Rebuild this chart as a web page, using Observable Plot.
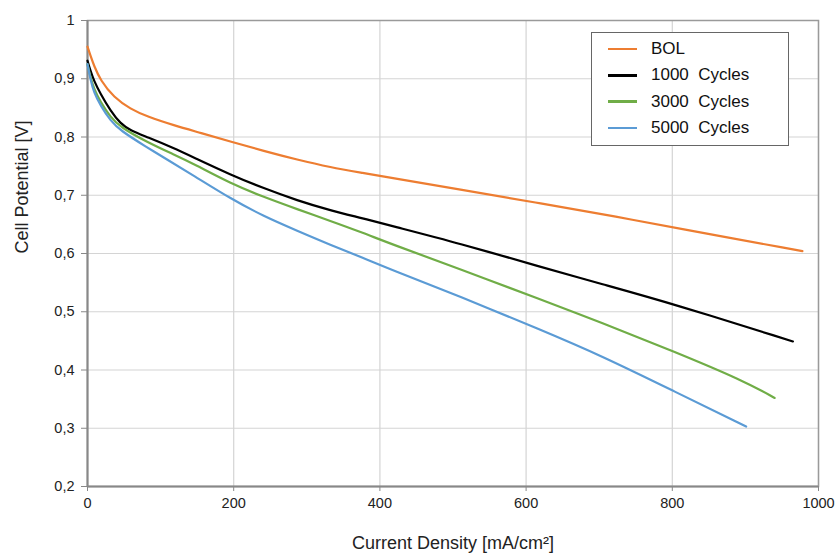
<!DOCTYPE html>
<html>
<head>
<meta charset="utf-8">
<script src="https://cdn.jsdelivr.net/npm/d3@7"></script>
<script src="https://cdn.jsdelivr.net/npm/@observablehq/plot@0.6"></script>
<style>
  html, body { margin: 0; padding: 0; background: #fff; }
  #wrap { position: relative; width: 837px; height: 559px; font-family: "Liberation Sans", Arial, sans-serif; }
  #legend { position: absolute; left: 591px; top: 32px; width: 196px; height: 112px; border: 1.5px solid #666; background: #fff; box-sizing: content-box; }
  .row { position: absolute; left: 0; height: 24px; display: flex; align-items: center; font-size: 17px; color: #111; white-space: pre; }
  .sw { display: inline-block; width: 29px; height: 2.5px; margin-left: 16px; margin-right: 14px; }
</style>
</head>
<body>
<div id="wrap"><div id="legend"></div></div>
<script>
const seriesNames = ["BOL", "1000  Cycles", "3000  Cycles", "5000  Cycles"];
const seriesColors = ["#ED7D31", "#000000", "#70AD47", "#5B9BD5"];

const bolX = [0, 4, 8.7, 17.8, 36, 58.8, 81.7, 118, 155, 196, 241, 287, 332, 378, 414, 510, 620, 729, 800, 978];
const bolY = [0.955, 0.940, 0.923, 0.897, 0.868, 0.848, 0.835, 0.820, 0.807, 0.792, 0.776, 0.761, 0.748, 0.738, 0.730, 0.710, 0.686, 0.662, 0.645, 0.604];

const c1000X = [0, 4, 8.7, 17.8, 31.5, 45, 58.8, 81.7, 118, 145, 196, 241, 287, 332, 378, 414, 510, 620, 702, 800, 965];
const c1000Y = [0.931, 0.914, 0.897, 0.874, 0.845, 0.823, 0.811, 0.800, 0.781, 0.765, 0.735, 0.712, 0.691, 0.674, 0.660, 0.648, 0.617, 0.577, 0.548, 0.514, 0.449];

const c3000X = [0, 4, 8.7, 17.8, 31.5, 45, 81.7, 118, 145, 196, 241, 287, 332, 378, 414, 510, 620, 702, 800, 897, 940];
const c3000Y = [0.925, 0.903, 0.883, 0.860, 0.834, 0.817, 0.791, 0.770, 0.754, 0.720, 0.697, 0.676, 0.656, 0.635, 0.617, 0.573, 0.521, 0.482, 0.433, 0.382, 0.352];

const c5000X = [0, 4, 8.7, 17.8, 31.5, 45, 81.7, 104, 145, 196, 241, 287, 332, 378, 414, 510, 620, 702, 800, 901];
const c5000Y = [0.925, 0.899, 0.877, 0.854, 0.828, 0.811, 0.782, 0.765, 0.734, 0.694, 0.664, 0.639, 0.615, 0.592, 0.573, 0.526, 0.469, 0.425, 0.365, 0.303];

const xTicks = [0, 200, 400, 600, 800, 1000];
const yTicks = [0.2, 0.3, 0.4, 0.5, 0.6, 0.7, 0.8, 0.9, 1];

const xsList = [bolX, c1000X, c3000X, c5000X];
const ysList = [bolY, c1000Y, c3000Y, c5000Y];
const data = [];
xsList.forEach((xs, i) => xs.forEach((x, j) => data.push({series: seriesNames[i], x, y: ysList[i][j]})));

const fmtY = d => (d === 1 ? "1" : d.toFixed(1).replace(".", ","));

const chart = Plot.plot({
  width: 837,
  height: 559,
  marginLeft: 87,
  marginRight: 19,
  marginTop: 20,
  marginBottom: 73,
  style: {fontFamily: "Liberation Sans, Arial, sans-serif", fontSize: "14px", color: "#222", background: "#fff"},
  x: {domain: [0, 1000]},
  y: {domain: [0.2, 1]},
  color: {domain: seriesNames, range: seriesColors},
  marks: [
    Plot.gridX(xTicks, {stroke: "#d4d4d4", strokeOpacity: 1, strokeWidth: 1.2}),
    Plot.gridY(yTicks, {stroke: "#d4d4d4", strokeOpacity: 1, strokeWidth: 1.2}),
    Plot.frame({stroke: "#9a9a9a", strokeWidth: 1.5}),
    Plot.axisX(xTicks, {label: null, tickSize: 5, tickPadding: 6, stroke: "#888", fontSize: 14.5, tickFormat: d => String(d)}),
    Plot.axisY(yTicks, {label: null, tickSize: 6, tickPadding: 7, stroke: "#888", fontSize: 14.5, tickFormat: fmtY}),
    Plot.ruleX([0], {stroke: "#888", strokeWidth: 2}),
    Plot.ruleY([0.2], {stroke: "#888", strokeWidth: 2}),
    Plot.line(data, {x: "x", y: "y", z: "series", stroke: "series", strokeWidth: 2.2, curve: "basis"}),
    Plot.text(["Current Density [mA/cm²]"], {frameAnchor: "bottom", dy: 62, fontSize: 18, fill: "#222"}),
    Plot.text(["Cell Potential [V]"], {frameAnchor: "left", rotate: -90, dx: -65, fontSize: 18, fill: "#222"})
  ]
});

const wrap = document.getElementById("wrap");
wrap.insertBefore(chart, wrap.firstChild);

const legend = document.getElementById("legend");
seriesNames.forEach((name, i) => {
  const row = document.createElement("div");
  row.className = "row";
  row.style.top = (4 + i * 26.3) + "px";
  const sw = document.createElement("span");
  sw.className = "sw";
  sw.style.background = seriesColors[i];
  row.appendChild(sw);
  row.appendChild(document.createTextNode(name));
  legend.appendChild(row);
});
</script>
</body>
</html>
